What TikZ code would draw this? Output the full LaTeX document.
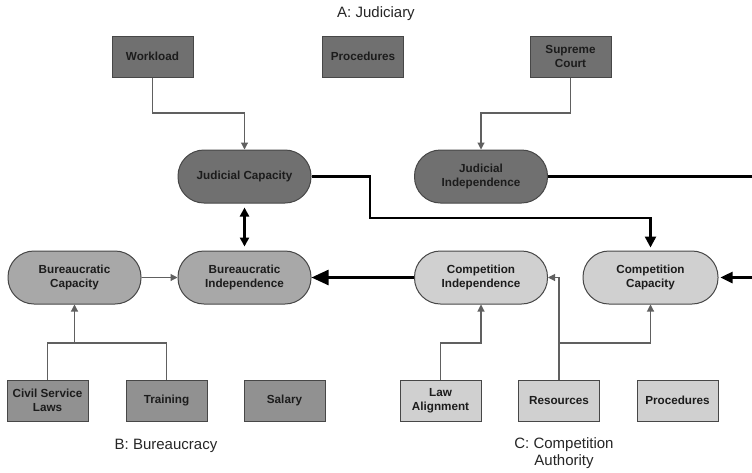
\documentclass[tikz,border=0pt]{standalone}
\usepackage{fontspec}
\setmainfont{Liberation Sans}
\usetikzlibrary{arrows.meta}
\definecolor{darkfill}{HTML}{707070}
\definecolor{bfill}{HTML}{A8A8A8}
\definecolor{bbox}{HTML}{919191}
\definecolor{cfill}{HTML}{D0D0D0}
\definecolor{edgecol}{HTML}{474747}
\definecolor{thincol}{HTML}{606060}
\definecolor{txtcol}{HTML}{1C1C1C}
\tikzset{
  nodefont/.style={font=\fontsize{11.7}{14.5}\selectfont\bfseries, text=txtcol},
  sqbox/.style={nodefont, draw=edgecol, line width=1pt, minimum width=81pt, minimum height=41pt, inner sep=0pt, align=center},
  pill/.style={nodefont, draw=edgecol, line width=1pt, rounded corners=26pt, minimum width=133pt, minimum height=53pt, inner sep=0pt, align=center},
  thinarr/.style={draw=thincol, line width=1.1pt, -{Triangle[length=7pt,width=7pt]}},
  thinline/.style={draw=thincol, line width=1.1pt},
  heavy/.style={draw=black, line width=2.5pt},
  titletext/.style={font=\fontsize{15}{17}\selectfont, align=center, text=black!85}
}
\begin{document}
\begin{tikzpicture}[x=1pt,y=-1pt]
\useasboundingbox (0,0) rectangle (752,472);
\fill[white] (0,0) rectangle (752,472);
% titles
\node[titletext] (tA) at (376,14) {A: Judiciary};
\node[titletext] (tB) at (166,446) {B: Bureaucracy};
\node[titletext] (tC) at (564,453) {C: Competition\\Authority};
% top row
\node[sqbox, fill=darkfill] (wl) at (152.5,56.5) {Workload};
\node[sqbox, fill=darkfill] (pj) at (363,56.5) {Procedures};
\node[sqbox, fill=darkfill] (sc) at (570.5,56.5) {Supreme\\Court};
% judicial pills
\node[pill, fill=darkfill] (jc) at (244.5,176.5) {Judicial Capacity};
\node[pill, fill=darkfill] (ji) at (481,176.5) {Judicial\\Independence};
% middle row
\node[pill, fill=bfill] (bc) at (74.5,277.5) {Bureaucratic\\Capacity};
\node[pill, fill=bfill] (bi) at (244.5,277.5) {Bureaucratic\\Independence};
\node[pill, fill=cfill] (ci) at (481,277.5) {Competition\\Independence};
\node[pill, fill=cfill, minimum width=135pt] (cc) at (650.5,277.5) {Competition\\Capacity};
% bottom row
\node[sqbox, fill=bbox] (csl) at (47.5,400.5) {Civil Service\\Laws};
\node[sqbox, fill=bbox] (tr) at (166.5,400.5) {Training};
\node[sqbox, fill=bbox] (sal) at (284.5,400.5) {Salary};
\node[sqbox, fill=cfill] (la) at (440.5,400.5) {Law\\Alignment};
\node[sqbox, fill=cfill] (res) at (559,400.5) {Resources};
\node[sqbox, fill=cfill] (pc) at (677.5,400.5) {Procedures};
% helper coordinates
\coordinate (ya) at (0,113);
\coordinate (yb) at (0,343);
\coordinate (yc) at (0,275.5);
\coordinate (r1) at (370,218);
\coordinate (re1) at (752,176.5);
\coordinate (re2) at (752,277.5);
% thin connectors
\draw[thinarr] (wl.south) -- (wl.south |- ya) -| (jc.north);
\draw[thinarr] (sc.south) -- (sc.south |- ya) -| (ji.north);
\draw[thinline] (csl.north) -- (csl.north |- yb) -| (tr.north);
\draw[thinarr] (bc.south |- yb) -- (bc.south);
\draw[thinarr] (bc.east) -- (bi.west);
\draw[thinarr] (la.north) -- (la.north |- yb) -| (ci.south);
\draw[thinarr] (res.north) |- (ci.east);
\draw[thinarr] (res.north |- yb) -| (cc.south);
% heavy connectors
\draw[heavy, {Triangle[length=9pt,width=9pt]}-{Triangle[length=9pt,width=9pt]}, shorten >=4pt, shorten <=4pt] (jc.south) -- (bi.north);
\draw[heavy, -{Triangle[length=11pt,width=11pt]}, shorten >=3pt] (jc.east) -| (r1) -| (cc.north);
\draw[heavy] (ji.east) -- (re1);
\draw[heavy, -{Triangle[length=12pt,width=11pt]}, shorten >=2pt] (re2) -- (cc.east);
\draw[heavy, -{Triangle[length=17pt,width=15pt]}] (ci.west) -- (bi.east);
\end{tikzpicture}
\end{document}
